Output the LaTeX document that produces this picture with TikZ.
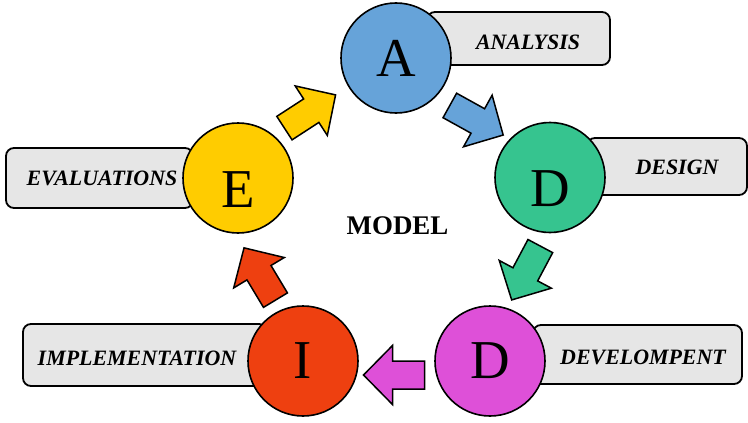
\documentclass[tikz,border=0pt]{standalone}
\usepackage{fontspec}
\setmainfont{Liberation Serif}
\usetikzlibrary{calc}
\definecolor{analysisblue}{HTML}{66A3D9}
\definecolor{designgreen}{HTML}{36C48F}
\definecolor{developpink}{HTML}{DE50D8}
\definecolor{implementred}{HTML}{EE4010}
\definecolor{evalyellow}{HTML}{FFCC00}
\definecolor{boxgray}{HTML}{E6E6E6}

\begin{document}
\begin{tikzpicture}[x=1bp,y=1bp,
  phase node/.style={circle,draw,line width=1.6bp,minimum size=110bp,inner sep=0pt,font=\fontsize{55}{55}\selectfont},
  sunk/.style={text height=58bp},
  tag box/.style={draw,line width=1.8bp,rounded corners=8bp,fill=boxgray,inner sep=0pt},
  tag text/.style={font=\fontsize{22}{22}\selectfont\bfseries\itshape},
  flow/.style={draw=black,line width=1.5bp,line join=miter},
  blockarrow/.pic={
    \path[pic actions] (-30.5,-14) -- (1.5,-14) -- (1.5,-29.5) -- (30.5,0)
      -- (1.5,29.5) -- (1.5,14) -- (-30.5,14) -- cycle;
  }]
  \useasboundingbox (0,0) rectangle (748,422);

  % label boxes behind the circles
  \node[tag box, minimum width=183bp, minimum height=53bp] (boxA) at (518.5,383.5) {};
  \node[tag box, minimum width=160bp, minimum height=57bp] (boxD1) at (667,255.5) {};
  \node[tag box, minimum width=209bp, minimum height=59bp] (boxD2) at (637.5,67.5) {};
  \node[tag box, minimum width=244bp, minimum height=62bp] (boxI) at (145,67) {};
  \node[tag box, minimum width=187bp, minimum height=60bp] (boxE) at (99.5,244) {};

  \node[tag text] (tA) at (528,380) {ANALYSIS};
  \node[tag text] (tD1) at (677,255) {DESIGN};
  \node[tag text] (tD2) at (643,65) {DEVELOMPENT};
  \node[tag text] (tI) at (137,64) {IMPLEMENTATION};
  \node[tag text] (tE) at (102,244) {EVALUATIONS};

  % phases
  \node[phase node, fill=analysisblue] (A) at (396,364) {A};
  \node[phase node, fill=designgreen, sunk] (D1) at (550,244.5) {D};
  \node[phase node, fill=developpink] (D2) at (490,61) {D};
  \node[phase node, fill=implementred] (I) at (303,61) {I};
  \node[phase node, fill=evalyellow, sunk] (E) at (238,244) {E};

  \node[font=\fontsize{27}{27}\selectfont\bfseries] (model) at (397.5,196.5) {MODEL};

  % block arrows between the phases
  \pic[flow, fill=evalyellow, rotate=33] at ($(E)!.5!(A)+(-7,6.5)$) {blockarrow};
  \pic[flow, fill=analysisblue, rotate=-29] at ($(A)!.5!(D1)+(3.5,-2.5)$) {blockarrow};
  \pic[flow, fill=designgreen, rotate=242] at ($(D1)!.5!(D2)+(6,-3.75)$) {blockarrow};
  \pic[flow, fill=developpink, rotate=180] at ($(D2)!.5!(I)+(-2.5,-14)$) {blockarrow};
  \pic[flow, fill=implementred, rotate=121] at ($(I)!.5!(E)+(-10.75,-4.5)$) {blockarrow};
\end{tikzpicture}
\end{document}
